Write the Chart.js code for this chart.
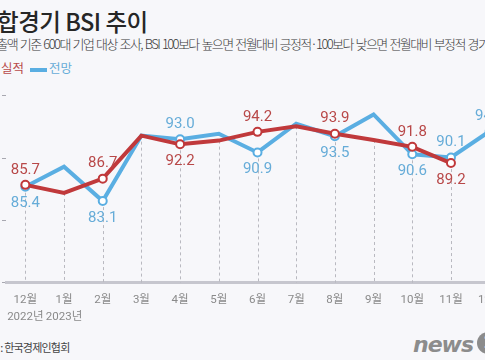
<!DOCTYPE html>
<html>
<head>
<meta charset="utf-8">
<script src="https://cdn.jsdelivr.net/npm/chart.js@4"></script>
<style>
  html, body { margin:0; padding:0; }
  body { width:485px; height:360px; overflow:hidden; position:relative; background:#f7f7fa; font-family:'Noto Sans CJK KR', sans-serif; }
  .abs { position:absolute; white-space:nowrap; }
  #title { left:-24px; top:4px; font-size:23.5px; font-weight:500; color:#262626; letter-spacing:-0.5px; line-height:34px; }
  #sub { left:-14px; top:35px; font-size:13px; color:#3a3a3a; letter-spacing:-1.6px; word-spacing:1.5px; line-height:18px; font-weight:300; }
  #legend { left:-21px; top:59px; font-size:12.5px; line-height:18px; }
  #legend .sw { display:inline-block; width:17px; height:4px; vertical-align:middle; }
  #src { left:-20px; top:339px; font-size:11px; color:#444; letter-spacing:-0.8px; line-height:16px; }
  #logo { left:413px; top:332px; font-family:'DejaVu Sans', sans-serif; font-size:22px; font-weight:900; font-style:italic; color:#8c8c8c; letter-spacing:-1px; line-height:26px; }
  #logo .one { display:inline-block; width:22px; height:22px; border-radius:11px; background:#8c8c8c; color:#f7f7fa; font-size:16px; text-align:center; line-height:22px; margin-left:4px; font-style:normal; vertical-align:top; }
  #wrap { position:absolute; left:0; top:80px; }
</style>
</head>
<body>
<div id="title" class="abs">종합경기 BSI 추이</div>
<div id="sub" class="abs">매출액 기준 600대 기업 대상 조사, BSI 100보다 높으면 전월대비 긍정적·100보다 낮으면 전월대비 부정적 경기 전망</div>
<div id="legend" class="abs"><span class="sw" style="background:#c0393b;margin-right:5px"></span><span style="color:#b94a4a">실적</span><span class="sw" style="background:#5aaee2;margin-left:6px;margin-right:2px"></span><span style="color:#66acd8">전망</span></div>
<div id="src" class="abs">출처 : 한국경제인협회</div>
<div id="logo" class="abs">news<span class="one">1</span></div>
<div id="wrap"><canvas id="c" width="520" height="250"></canvas></div>
<script>
const months = [['12월','2022년'], ['1월','2023년'], '2월', '3월', '4월', '5월', '6월', '7월', '8월', '9월', '10월', '11월', '12월'];
const actual   = [85.7, 84.4, 86.7, 93.6, 92.2, 92.8, 94.2, 95.1, 93.9, 92.9, 91.8, 89.2, null];
const forecast = [85.4, 88.6, 83.1, 93.6, 93.0, 93.9, 90.9, 95.5, 93.5, 97.0, 90.6, 90.1, 94.3];
const labeledIdx = [0, 2, 4, 6, 8, 10, 11, 12];
const yTicks = [70, 80, 90, 100];

const RED = '#c0393b', BLUE = '#5aaee2';
const RED_TXT = '#b84848', BLUE_TXT = '#66acd8';

const markerRadius = months.map((m, i) => labeledIdx.includes(i) ? 4 : 0);

const dashPlugin = {
  id: 'dashes',
  beforeDatasetsDraw(chart) {
    const { ctx, scales: { x, y }, chartArea } = chart;
    ctx.save();
    ctx.strokeStyle = '#b9b9c0';
    ctx.lineWidth = 1;
    ctx.setLineDash([3, 3]);
    months.forEach((m, i) => {
      const vals = [actual[i], forecast[i]].filter(v => v !== null);
      const lo = Math.min(...vals);
      const px = Math.round(x.getPixelForValue(i)) + 0.5;
      ctx.beginPath();
      ctx.moveTo(px, y.getPixelForValue(lo));
      ctx.lineTo(px, chartArea.bottom);
      ctx.stroke();
    });
    ctx.restore();
  }
};

const labelPlugin = {
  id: 'vlabels',
  afterDatasetsDraw(chart) {
    const { ctx } = chart;
    ctx.save();
    ctx.font = '15px Roboto, sans-serif';
    ctx.textAlign = 'center';
    ctx.textBaseline = 'middle';
    const series = [actual, forecast];
    const colors = [RED_TXT, BLUE_TXT];
    labeledIdx.forEach(i => {
      series.forEach((s, d) => {
        const v = s[i];
        if (v === null) return;
        const other = series[1 - d][i];
        const above = other === null || v >= other;
        const pt = chart.getDatasetMeta(d).data[i];
        ctx.fillStyle = colors[d];
        ctx.fillText(v.toFixed(1), pt.x, above ? pt.y - 15 : pt.y + 17);
      });
    });
    ctx.restore();
  }
};

new Chart(document.getElementById('c'), {
  type: 'line',
  data: {
    labels: months,
    datasets: [
      { label: '실적', data: actual, borderColor: RED, borderWidth: 4, backgroundColor: '#ffffff',
        pointRadius: markerRadius, pointBorderWidth: 2, pointBackgroundColor: '#ffffff', pointBorderColor: RED,
        tension: 0, spanGaps: false },
      { label: '전망', data: forecast, borderColor: BLUE, borderWidth: 4, backgroundColor: '#ffffff',
        pointRadius: markerRadius, pointBorderWidth: 2, pointBackgroundColor: '#ffffff', pointBorderColor: BLUE,
        tension: 0 }
    ]
  },
  options: {
    responsive: false,
    animation: false,
    layout: { padding: { top: 15.7, left: 0, right: 11, bottom: 3.9 } },
    plugins: { legend: { display: false }, tooltip: { enabled: false } },
    scales: {
      x: {
        offset: true,
        grid: { display: false },
        border: { display: true, color: '#c6c6ce', width: 3 },
        ticks: { color: '#8a8a8a', padding: 1, maxRotation: 0, autoSkip: false,
                 font: { family: "Roboto, 'Noto Sans CJK KR', sans-serif", size: 11.5, lineHeight: 1.45 } }
      },
      y: {
        min: 70, max: 100,
        afterBuildTicks(scale) { scale.ticks = yTicks.map(v => ({ value: v })); },
        grid: { display: true, drawOnChartArea: false, drawTicks: true, tickLength: 4, color: '#a8a8b0' },
        border: { display: false },
        ticks: { display: false }
      }
    }
  },
  plugins: [dashPlugin, labelPlugin]
});
</script>
</body>
</html>
